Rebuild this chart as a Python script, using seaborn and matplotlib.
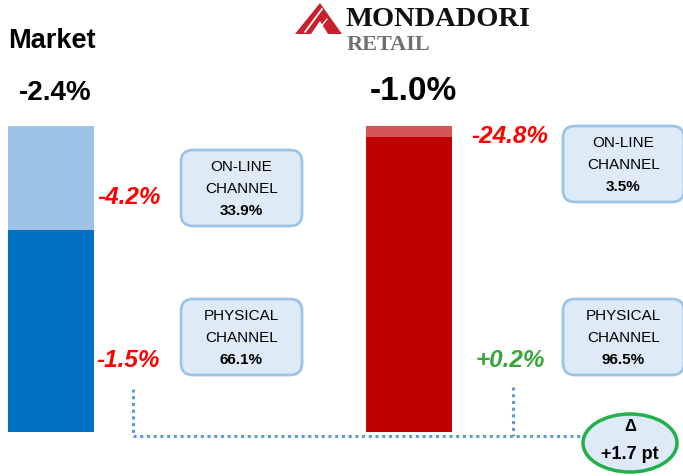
import matplotlib
matplotlib.use("Agg")
import matplotlib.pyplot as plt
import seaborn as sns
from matplotlib.patches import FancyBboxPatch, Ellipse, Polygon

# data
categories = ["Market", "Mondadori Retail"]
physical_share = [66.1, 96.5]
online_share = [33.9, 3.5]
total_change = ["-2.4%", "-1.0%"]
online_change = ["-4.2%", "-24.8%"]
physical_change = ["-1.5%", "+0.2%"]
delta_label = "+1.7 pt"

light_colors = ["#9DC3E6", "#D45555"]
dark_colors = ["#0070C0", "#C00000"]

sns.set_style("white")
plt.rcParams["font.family"] = ["Liberation Sans", "DejaVu Sans"]
plt.rcParams["text.color"] = "black"

fig = plt.figure(figsize=(6.83, 4.77), dpi=100)
W, H = 683, 477

# bars axis: bottom of bars at y=433px, top at 127px
ax = fig.add_axes([0, (H - 433) / H, 1, 306 / H])
totals = [p + o for p, o in zip(physical_share, online_share)]
sns.barplot(x=categories, y=totals, hue=categories, palette=light_colors,
            width=0.24, saturation=1, legend=False, linewidth=0, ax=ax)
sns.barplot(x=categories, y=physical_share, hue=categories, palette=dark_colors,
            width=0.24, saturation=1, legend=False, linewidth=0, ax=ax)
ax.set_xlim(-51 / 358, (W - 51) / 358)
ax.set_ylim(0, 100)
ax.axis("off")

# overlay in pixel coordinates
ov = fig.add_axes([0, 0, 1, 1])
ov.set_xlim(0, W)
ov.set_ylim(H, 0)
ov.axis("off")
ov.patch.set_alpha(0)

ov.text(8, 41, "Market", fontsize=19.5, fontweight="bold", va="center", ha="left")
ov.text(55, 93, total_change[0], fontsize=20, fontweight="bold", va="center", ha="center")
ov.text(413, 91, total_change[1], fontsize=24, fontweight="bold", va="center", ha="center")

red = "#FF0000"
green = "#3AA63A"
lab = dict(fontsize=17.5, fontweight="bold", style="italic", va="center", ha="center")
ov.text(129, 198, online_change[0], color=red, **lab)
ov.text(128, 361, physical_change[0], color=red, **lab)
ov.text(510, 137, online_change[1], color=red, **lab)
ov.text(510, 361, physical_change[1], color=green, **lab)

# channel boxes
def channel_box(x0, y0, title, share):
    box = FancyBboxPatch((x0 + 6, y0 + 6), 121 - 12, 76 - 12,
                         boxstyle="round,pad=6,rounding_size=12",
                         fc="#DEEBF7", ec="#9DC3E6", lw=2, zorder=2)
    ov.add_patch(box)
    cx = x0 + 60.5
    ov.text(cx, y0 + 16, title[0], fontsize=11, ha="center", va="center", zorder=3)
    ov.text(cx, y0 + 38, title[1], fontsize=11, ha="center", va="center", zorder=3)
    ov.text(cx, y0 + 60, share, fontsize=11, fontweight="bold", ha="center",
            va="center", zorder=3)

channel_box(181, 151, ("ON-LINE", "CHANNEL"), f"{online_share[0]}%")
channel_box(181, 300, ("PHYSICAL", "CHANNEL"), f"{physical_share[0]}%")
channel_box(563, 127, ("ON-LINE", "CHANNEL"), f"{online_share[1]}%")
channel_box(563, 300, ("PHYSICAL", "CHANNEL"), f"{physical_share[1]}%")

# dotted connectors
dot = dict(color="#5B9BD5", lw=2.2, linestyle=(0, (1, 1.2)))
ov.plot([133, 133], [390, 437], **dot)
ov.plot([513, 513], [388, 437], **dot)
ov.plot([133, 583], [437, 437], **dot)

# delta ellipse
ov.add_patch(Ellipse((630, 444), 94, 58, fc="#DEEBF7", ec="#22B04A", lw=2.5, zorder=3))
ov.text(630, 427, "Δ", fontsize=12, fontweight="bold", ha="center", va="center", zorder=4)
ov.text(630, 455, delta_label, fontsize=13, fontweight="bold", ha="center",
        va="center", zorder=4)

# logo
ov.add_patch(Polygon([[295, 35], [320, 4], [342, 35]], closed=True, fc="#C8202F", ec="none"))
ov.add_patch(Polygon([[311, 35], [320, 22], [328, 35]], closed=True, fc="white", ec="none"))
ov.plot([305, 322], [33, 10], color="white", lw=1.3)
ov.plot([317, 327], [33, 20], color="white", lw=1.0)
ov.text(346, 20, "MONDADORI", fontsize=20.5, fontweight="bold", family=["Liberation Serif"],
        ha="left", va="center", color="#111111")
ov.text(347, 45, "RETAIL", fontsize=16, fontweight="bold", family=["Liberation Serif"],
        ha="left", va="center", color="#707070")

fig.savefig("out.png", dpi=100)
